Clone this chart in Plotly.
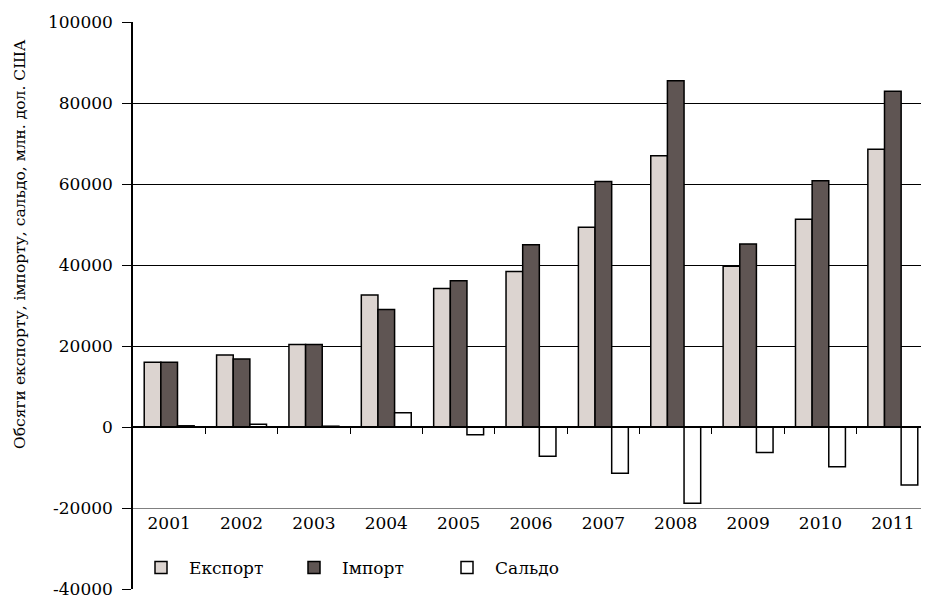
import plotly.graph_objects as go

years = [2001, 2002, 2003, 2004, 2005, 2006, 2007, 2008, 2009, 2010, 2011]
export_vals = [16000, 17800, 20400, 32600, 34200, 38400, 49300, 67000, 39700, 51300, 68600]
import_vals = [16000, 16800, 20400, 29000, 36100, 45000, 60600, 85500, 45200, 60800, 82900]
saldo_vals = [300, 700, 200, 3500, -1900, -7200, -11400, -18800, -6300, -9800, -14300]
series_names = ["Експорт", "Імпорт", "Сальдо"]
y_ticks = [-40000, -20000, 0, 20000, 40000, 60000, 80000, 100000]
y_tick_text = ["-40000", "-20000", "0", "20000", "40000", "60000", "80000", "100000"]
grid_vals = [20000, 40000, 60000, 80000]
boundaries = [y + 0.5 for y in years[:-1]]

FONT = "DejaVu Serif"
colors = ["#dcd4d0", "#5f5553", "#ffffff"]
y_range = [-40000, 100000]

# page body has an 8px margin: size the figure to the visible part
W, H = 921, 589
ML, MT, MB = 125, 14, 8
PW = W - ML
PH = H - MT - MB

fig = go.Figure()
# invisible trace to create the base subplot (grid lines)
fig.add_trace(go.Scatter(x=[years[0]], y=[0], mode="markers", marker=dict(opacity=0),
                         showlegend=False, hoverinfo="skip", xaxis="x", yaxis="y"))
for name, vals, col in zip(series_names, [export_vals, import_vals, saldo_vals], colors):
    fig.add_trace(go.Bar(x=years, y=vals, name=name, marker=dict(color=col, line=dict(color="black", width=1.5)),
                         xaxis="x2", yaxis="y2"))

pos_m20 = (-20000 - y_range[0]) / (y_range[1] - y_range[0])
pos_0 = (0 - y_range[0]) / (y_range[1] - y_range[0])

fig.update_layout(
    width=W, height=H,
    margin=dict(l=ML, r=0, t=MT, b=MB, autoexpand=False),
    paper_bgcolor="white", plot_bgcolor="white",
    font=dict(family=FONT, size=16, color="black"),
    barmode="group", bargap=0.31, bargroupgap=0,
    xaxis=dict(range=[2000.5, 2011.5], anchor="free", position=pos_m20, tickvals=years,
               ticks="", showline=True, linecolor="#808080", linewidth=1, showgrid=False,
               zeroline=False, automargin=False, tickformat="d",
               tickfont=dict(family=FONT, size=17)),
    xaxis2=dict(overlaying="x", matches="x", anchor="free", position=pos_0, tickvals=boundaries,
                ticks="outside", ticklen=6, tickcolor="black", showticklabels=False, automargin=False,
                showline=True, linecolor="black", linewidth=1.5, showgrid=False, zeroline=False),
    yaxis=dict(range=y_range, tickvals=grid_vals, showticklabels=False, ticks="", automargin=False,
               showgrid=True, gridcolor="black", gridwidth=1.3, zeroline=False, showline=False),
    yaxis2=dict(overlaying="y", anchor="x2", side="left", range=y_range, tickvals=y_ticks,
                ticktext=y_tick_text, automargin=False, ticklabeloverflow="allow",
                ticks="outside", ticklen=9, tickcolor="black", showline=True, linecolor="black",
                linewidth=1.5, showgrid=False, zeroline=False, ticklabelstandoff=6,
                tickfont=dict(family=FONT, size=17)),
    legend=dict(orientation="h", x=0.0, y=0.037, xanchor="left", yanchor="middle",
                font=dict(family=FONT, size=17), entrywidth=92, itemwidth=46,
                bgcolor="rgba(0,0,0,0)"),
    annotations=[dict(text="Обсяги експорту, імпорту, сальдо, млн. дол. США", xref="paper", yref="paper",
                      x=(20 - 133) / PW, y=(589 - 244) / PH, xanchor="center", yanchor="middle",
                      textangle=-90, showarrow=False, font=dict(family=FONT, size=15.5))],
)

fig.write_html("out.html")
